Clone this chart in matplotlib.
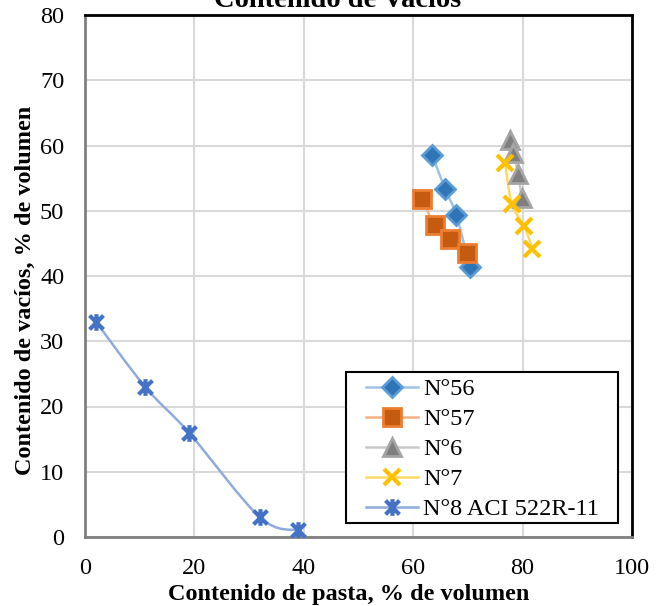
import numpy as np
import matplotlib
matplotlib.use("Agg")
import matplotlib.pyplot as plt
from matplotlib.path import Path
from matplotlib.patches import PathPatch, Rectangle
from matplotlib.lines import Line2D

# ---- data ----
n56_x = [63.5, 65.8, 67.9, 70.3]
n56_y = [58.5, 53.4, 49.3, 41.4]
n57_x = [61.7, 63.9, 66.7, 69.8]
n57_y = [51.8, 47.8, 45.7, 43.5]
n6_x = [77.7, 78.3, 79.2, 79.8]
n6_y = [60.8, 58.8, 55.7, 51.9]
n7_x = [76.8, 78.0, 80.3, 81.8]
n7_y = [57.3, 51.1, 47.6, 44.2]
n8_x = [2, 11, 19, 32, 39]
n8_y = [33, 23, 16, 3, 1]
labels = ["N°56", "N°57", "N°6", "N°7", "N°8 ACI 522R-11"]
x_ticks = [0, 20, 40, 60, 80, 100]
y_ticks = [0, 10, 20, 30, 40, 50, 60, 70, 80]

plt.rcParams['font.family'] = ['Liberation Serif', 'DejaVu Serif']

fig = plt.figure(figsize=(6.65, 6.06), dpi=100)
ax = fig.add_axes([85/665, 69/606, 547/665, 522/606])


def smooth_path(xs, ys):
    xs = np.asarray(xs, float)
    ys = np.asarray(ys, float)
    n = len(xs)
    verts = [(xs[0], ys[0])]
    codes = [Path.MOVETO]
    for i in range(n - 1):
        p0 = np.array([xs[max(i - 1, 0)], ys[max(i - 1, 0)]])
        p1 = np.array([xs[i], ys[i]])
        p2 = np.array([xs[i + 1], ys[i + 1]])
        p3 = np.array([xs[min(i + 2, n - 1)], ys[min(i + 2, n - 1)]])
        c1 = p1 + (p2 - p0) / 6.0
        c2 = p2 - (p3 - p1) / 6.0
        verts += [tuple(c1), tuple(c2), tuple(p2)]
        codes += [Path.CURVE4] * 3
    return Path(verts, codes)


star = Path([(-1, -1), (1, 1), (-1, 1), (1, -1), (0, -1.2), (0, 1.2)],
            [Path.MOVETO, Path.LINETO, Path.MOVETO, Path.LINETO, Path.MOVETO, Path.LINETO])

series = [
    (n56_x, n56_y, 'D', '#2E75B6', '#5B9BD5', '#9DC3E6', 10.5, 2.0),
    (n57_x, n57_y, 's', '#C55A11', '#ED7D31', '#F4B183', 13, 2.0),
    (n6_x, n6_y, '^', '#7F7F7F', '#A5A5A5', '#C9C9C9', 13, 2.0),
    (n7_x, n7_y, 'x', '#FFC000', '#FFC000', '#FFD966', 12, 3.0),
    (n8_x, n8_y, star, '#4472C4', '#4472C4', '#8FAADC', 12, 3.0),
]

handles = []
for (xs, ys, mk, fc, ec, lc, ms, mew), lab in zip(series, labels):
    ax.add_patch(PathPatch(smooth_path(xs, ys), facecolor='none', edgecolor=lc,
                           lw=1.8, zorder=2))
    ax.plot(xs, ys, linestyle='none', marker=mk, markersize=ms, markerfacecolor=fc,
            markeredgecolor=ec, markeredgewidth=mew, zorder=3)
    handles.append(Line2D([], [], color=lc, lw=1.8, marker=mk, markersize=ms,
                          markerfacecolor=fc, markeredgecolor=ec, markeredgewidth=mew))

ax.set_xlim(0, 100)
ax.set_ylim(0, 80)
ax.set_xticks(x_ticks)
ax.set_yticks(y_ticks)
ax.grid(True, color='#D9D9D9', lw=1.5, zorder=0)
ax.set_axisbelow(True)
ax.tick_params(length=0, labelsize=17.5, colors='black')
ax.tick_params(axis='x', pad=15)
ax.tick_params(axis='y', pad=15)
for s in ['left', 'bottom']:
    ax.spines[s].set_color('#808080')
    ax.spines[s].set_linewidth(2)
for s in ['top', 'right']:
    ax.spines[s].set_color('black')
    ax.spines[s].set_linewidth(2)

ax.set_xlabel("Contenido de pasta, % de volumen", fontsize=17.5, fontweight='bold', labelpad=4)
ax.set_ylabel("Contenido de vacíos, % de volumen", fontsize=17.5, fontweight='bold', labelpad=3)
ax.xaxis.label.set_x(0.4826)
ax.yaxis.label.set_y(0.473)

fig.text(0.508, 1 - 7/606, "Contenido de Vacíos", fontsize=20.5, fontweight='bold',
         ha='center', va='baseline')

# legend frame drawn separately (Excel-like padding)
ax.add_patch(Rectangle((0.4771, 0.0268), 0.4973, 0.2893, transform=ax.transAxes,
                       facecolor='white', edgecolor='black', lw=1.5, zorder=4))
leg = ax.legend(handles, labels, loc='upper left', bbox_to_anchor=(0.5137, 0.3046),
                borderaxespad=0, borderpad=0, fontsize=17.5, frameon=False,
                handlelength=2.14, handletextpad=0.2, labelspacing=0.33)
leg.set_zorder(5)

fig.savefig("out.png", dpi=100)
